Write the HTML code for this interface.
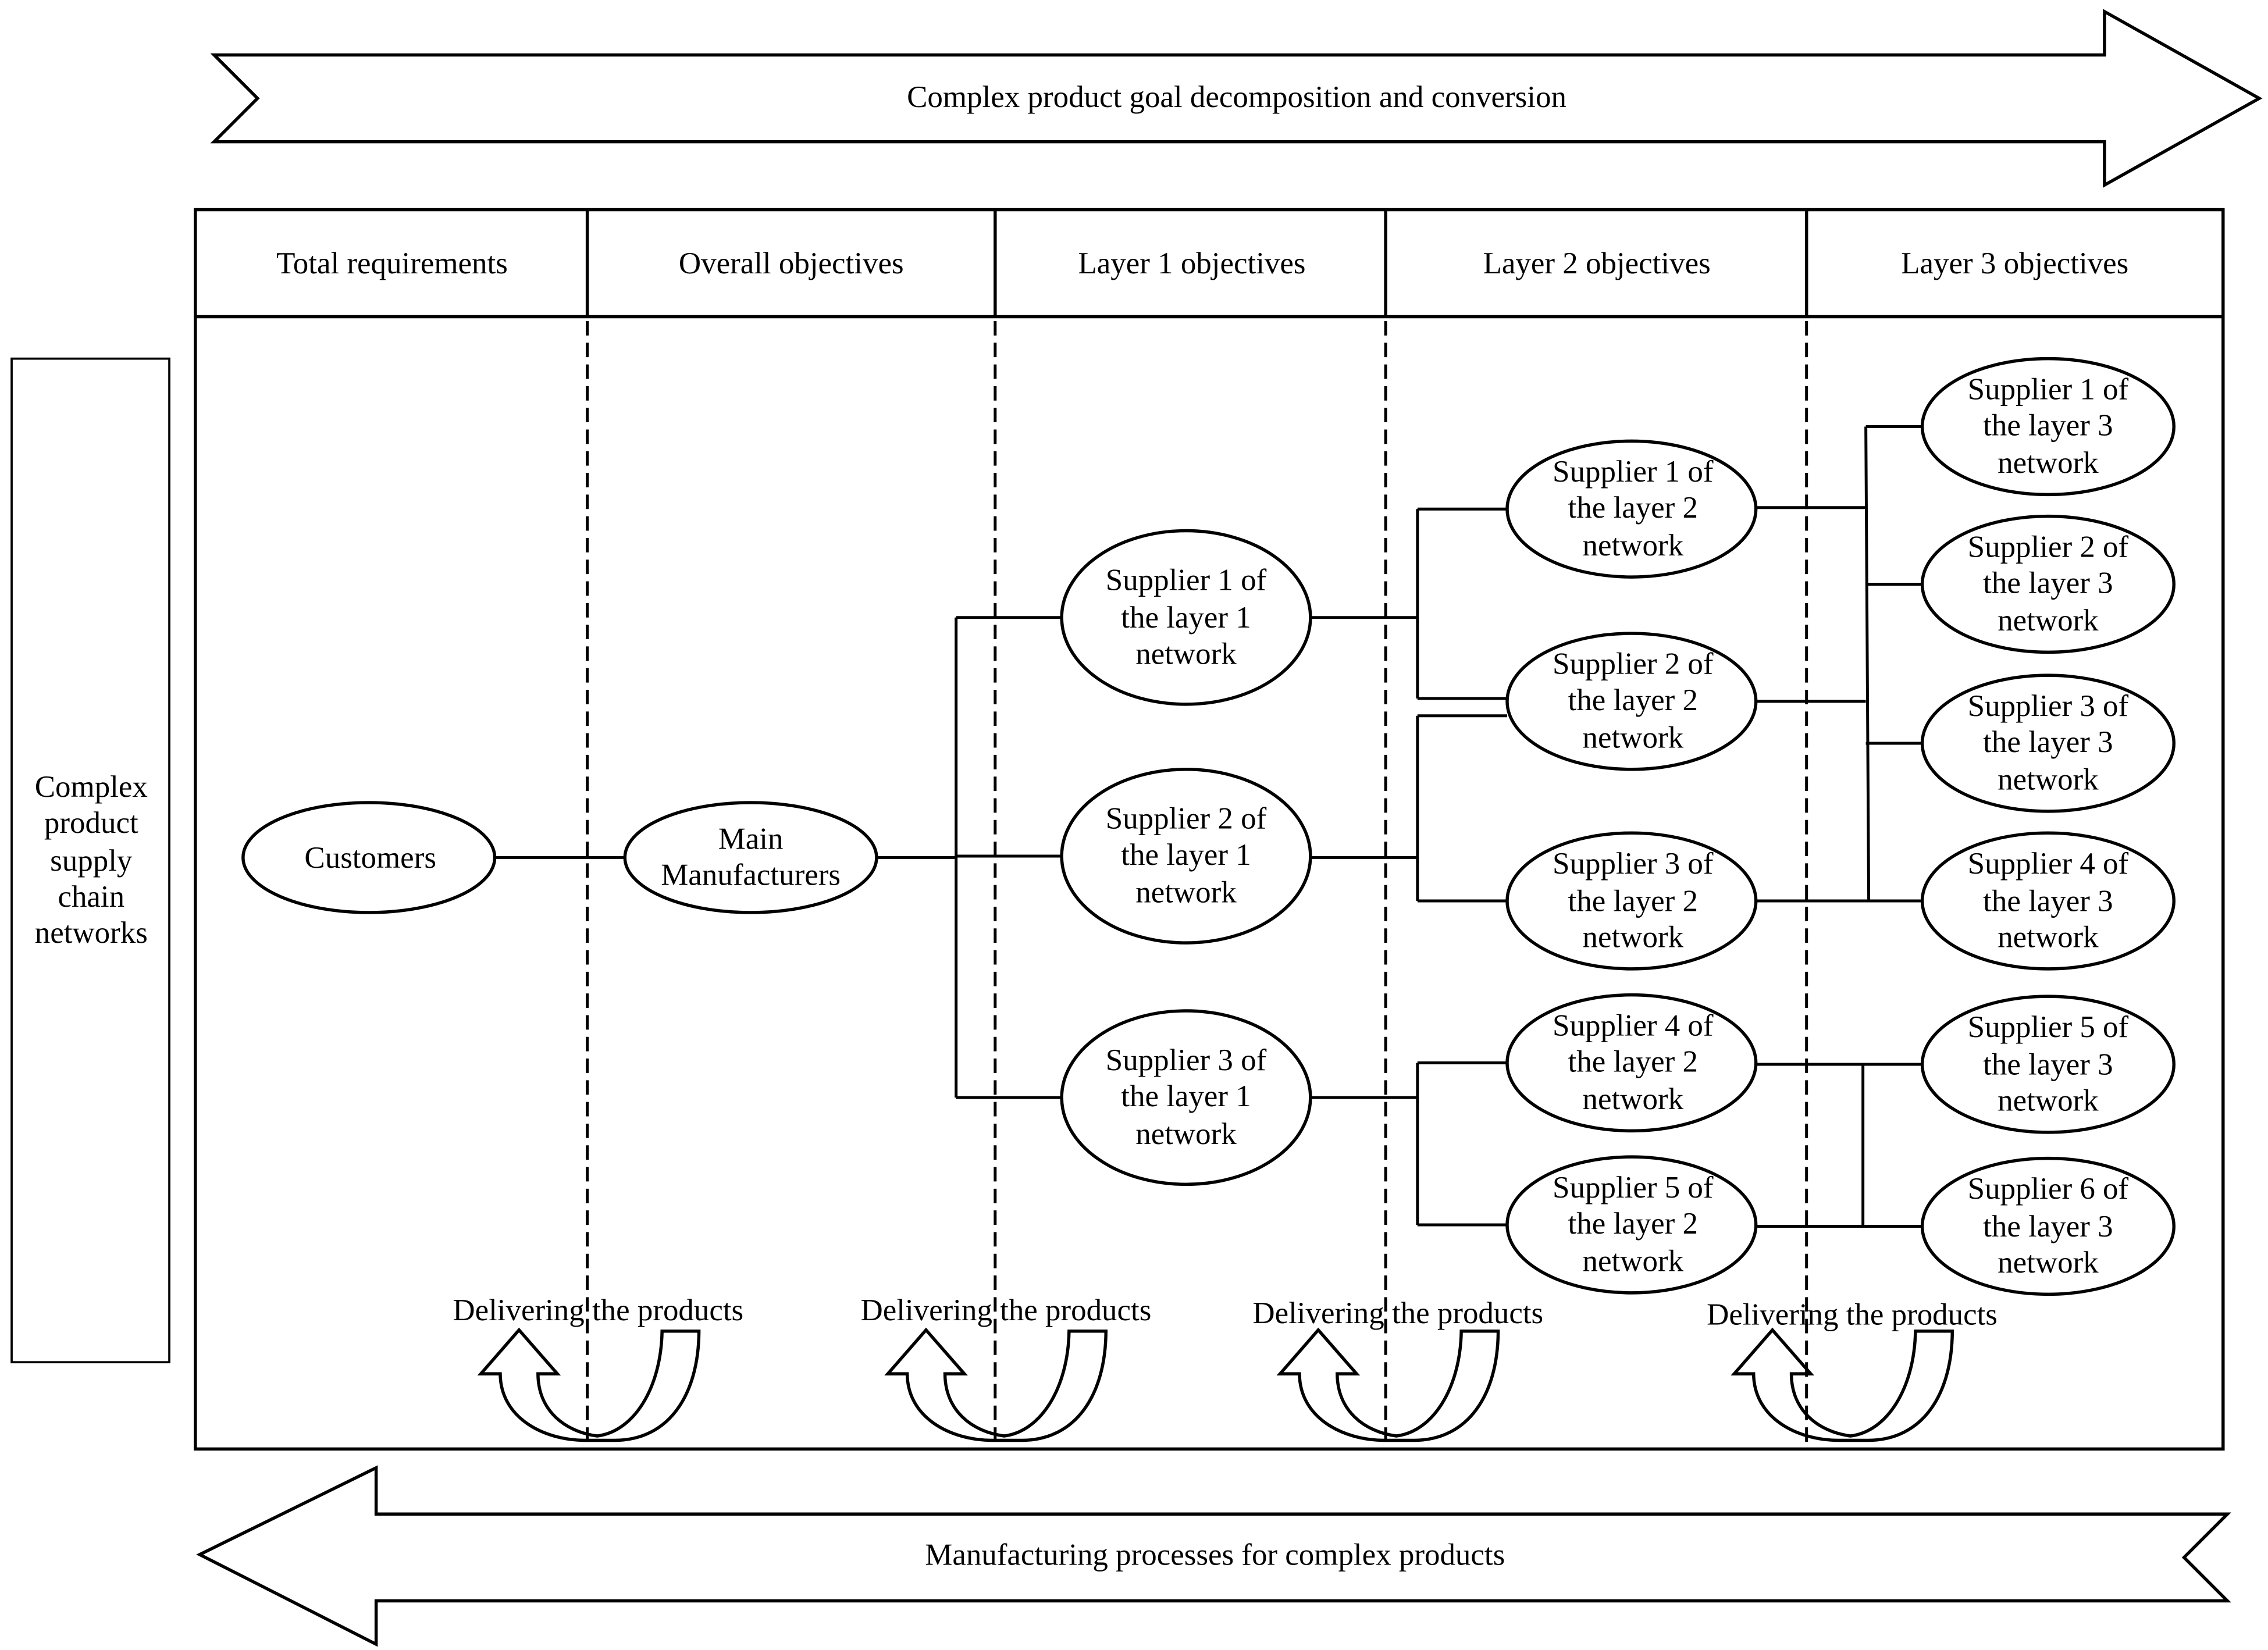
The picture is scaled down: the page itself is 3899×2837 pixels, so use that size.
<!DOCTYPE html>
<html><head><meta charset="utf-8"><style>html,body{margin:0;padding:0;background:#fff}svg{display:block}text{font-family:"Liberation Serif","Times New Roman",serif}</style></head>
<body>
<svg width="3899" height="2837" viewBox="0 0 1568 1141" xmlns="http://www.w3.org/2000/svg" style="font-family:'Liberation Serif',serif" font-size="21.3" fill="none" stroke="#000">
<rect x="0" y="0" width="1568" height="1141" fill="#fff" stroke="none"/>
<polygon points="148,38 1455,38 1455,8 1562,68 1455,128 1455,98 148,98 178,68" stroke-width="2.2"/>
<text x="855" y="74" text-anchor="middle" fill="#000" stroke="none">Complex product goal decomposition and conversion</text>
<polygon points="1540,1047 260,1047 260,1015 138,1075 260,1137 260,1107 1540,1107 1510,1077" stroke-width="2.2"/>
<text x="840" y="1082" text-anchor="middle" fill="#000" stroke="none">Manufacturing processes for complex products</text>
<rect x="8" y="248" width="109" height="694" stroke-width="1.5"/>
<g fill="#000" stroke="none" text-anchor="middle">
<text x="63" y="551">Complex</text><text x="63" y="576">product</text><text x="63" y="602">supply</text><text x="63" y="627">chain</text><text x="63" y="652">networks</text>
</g>
<rect x="135" y="145" width="1402" height="857" stroke-width="2.2"/>
<line x1="135" y1="219" x2="1537" y2="219" stroke-width="2.2"/>
<g stroke-width="2.2">
<line x1="406" y1="145" x2="406" y2="219"/><line x1="688" y1="145" x2="688" y2="219"/><line x1="958" y1="145" x2="958" y2="219"/><line x1="1249" y1="145" x2="1249" y2="219"/>
</g>
<g stroke-width="2" stroke-dasharray="10,5">
<line x1="406" y1="222" x2="406" y2="1002"/><line x1="688" y1="222" x2="688" y2="1002"/><line x1="958" y1="222" x2="958" y2="1002"/><line x1="1249" y1="222" x2="1249" y2="1002"/>
</g>
<g fill="#000" stroke="none" text-anchor="middle">
<text x="271" y="189">Total requirements</text>
<text x="547" y="189">Overall objectives</text>
<text x="824" y="189">Layer 1 objectives</text>
<text x="1104" y="189">Layer 2 objectives</text>
<text x="1393" y="189">Layer 3 objectives</text>
</g>
<g stroke-width="2">
<line x1="342" y1="593" x2="432" y2="593"/>
<line x1="606" y1="593" x2="661" y2="593"/>
<line x1="661" y1="427" x2="661" y2="759"/>
<line x1="661" y1="427" x2="734" y2="427"/><line x1="661" y1="592" x2="734" y2="592"/><line x1="661" y1="759" x2="734" y2="759"/>
<line x1="906" y1="427" x2="980" y2="427"/><line x1="980" y1="352" x2="980" y2="483"/>
<line x1="980" y1="352" x2="1042" y2="352"/><line x1="980" y1="483" x2="1042" y2="483"/>
<line x1="906" y1="593" x2="980" y2="593"/><line x1="980" y1="495" x2="980" y2="623"/>
<line x1="980" y1="495" x2="1042" y2="495"/><line x1="980" y1="623" x2="1042" y2="623"/>
<line x1="906" y1="759" x2="980" y2="759"/><line x1="980" y1="735" x2="980" y2="847"/>
<line x1="980" y1="735" x2="1042" y2="735"/><line x1="980" y1="847" x2="1042" y2="847"/>
<line x1="1214" y1="351" x2="1290" y2="351"/><line x1="1214" y1="485" x2="1290" y2="485"/>
<line x1="1214" y1="623" x2="1330" y2="623"/>
<line x1="1290" y1="295" x2="1292" y2="623"/>
<line x1="1290" y1="295" x2="1330" y2="295"/><line x1="1290" y1="404" x2="1330" y2="404"/><line x1="1290" y1="514" x2="1330" y2="514"/>
<line x1="1214" y1="736" x2="1330" y2="736"/><line x1="1214" y1="848" x2="1330" y2="848"/>
<line x1="1288" y1="736" x2="1288" y2="848"/>
</g>
<g stroke-width="2.2" fill="#fff">
<ellipse cx="255" cy="593" rx="87" ry="38"/>
<ellipse cx="519" cy="593" rx="87" ry="38"/>
<ellipse cx="820" cy="427" rx="86" ry="60"/><ellipse cx="820" cy="592" rx="86" ry="60"/><ellipse cx="820" cy="759" rx="86" ry="60"/>
<ellipse cx="1128" cy="352" rx="86" ry="47"/><ellipse cx="1128" cy="485" rx="86" ry="47"/><ellipse cx="1128" cy="623" rx="86" ry="47"/><ellipse cx="1128" cy="735" rx="86" ry="47"/><ellipse cx="1128" cy="847" rx="86" ry="47"/>
<ellipse cx="1416" cy="295" rx="87" ry="47"/><ellipse cx="1416" cy="404" rx="87" ry="47"/><ellipse cx="1416" cy="514" rx="87" ry="47"/><ellipse cx="1416" cy="623" rx="87" ry="47"/><ellipse cx="1416" cy="736" rx="87" ry="47"/><ellipse cx="1416" cy="848" rx="87" ry="47"/>
</g>
<g fill="#000" stroke="none" text-anchor="middle">
<text x="256" y="600">Customers</text>
<text x="519" y="587">Main</text><text x="519" y="612">Manufacturers</text>
<text x="820" y="408">Supplier 1 of</text><text x="820" y="434">the layer 1</text><text x="820" y="459">network</text>
<text x="820" y="573">Supplier 2 of</text><text x="820" y="598">the layer 1</text><text x="820" y="624">network</text>
<text x="820" y="740">Supplier 3 of</text><text x="820" y="765">the layer 1</text><text x="820" y="791">network</text>
<text x="1129" y="333">Supplier 1 of</text><text x="1129" y="358">the layer 2</text><text x="1129" y="384">network</text>
<text x="1129" y="466">Supplier 2 of</text><text x="1129" y="491">the layer 2</text><text x="1129" y="517">network</text>
<text x="1129" y="604">Supplier 3 of</text><text x="1129" y="630">the layer 2</text><text x="1129" y="655">network</text>
<text x="1129" y="716">Supplier 4 of</text><text x="1129" y="741">the layer 2</text><text x="1129" y="767">network</text>
<text x="1129" y="828">Supplier 5 of</text><text x="1129" y="853">the layer 2</text><text x="1129" y="879">network</text>
<text x="1416" y="276">Supplier 1 of</text><text x="1416" y="301">the layer 3</text><text x="1416" y="327">network</text>
<text x="1416" y="385">Supplier 2 of</text><text x="1416" y="410">the layer 3</text><text x="1416" y="436">network</text>
<text x="1416" y="495">Supplier 3 of</text><text x="1416" y="520">the layer 3</text><text x="1416" y="546">network</text>
<text x="1416" y="604">Supplier 4 of</text><text x="1416" y="630">the layer 3</text><text x="1416" y="655">network</text>
<text x="1416" y="717">Supplier 5 of</text><text x="1416" y="743">the layer 3</text><text x="1416" y="768">network</text>
<text x="1416" y="829">Supplier 6 of</text><text x="1416" y="855">the layer 3</text><text x="1416" y="880">network</text>
</g>
<defs>
<path id="ua" d="M345.8,950 C346,980 375,996 405,996 L425,996 C462,996 483,965 483.2,920.5 L457.7,920.5 C457,960 438,990 412.8,993 C390,990 372,975 371.9,950 L385.3,950 L358.8,919.7 L332.4,950 Z"/>
</defs>
<g stroke-width="2.2">
<use href="#ua"/>
<use href="#ua" transform="translate(281.4,0)"/>
<use href="#ua" transform="translate(552.6,0)"/>
<use href="#ua" transform="translate(866.6,0)"/>
</g>
<g fill="#000" stroke="none" text-anchor="middle">
<text x="413.5" y="913" textLength="201" lengthAdjust="spacingAndGlyphs">Delivering the products</text>
<text x="695.5" y="913" textLength="201" lengthAdjust="spacingAndGlyphs">Delivering the products</text>
<text x="966.5" y="915" textLength="201" lengthAdjust="spacingAndGlyphs">Delivering the products</text>
<text x="1280.5" y="916" textLength="201" lengthAdjust="spacingAndGlyphs">Delivering the products</text>
</g>
</svg>
</body></html>
